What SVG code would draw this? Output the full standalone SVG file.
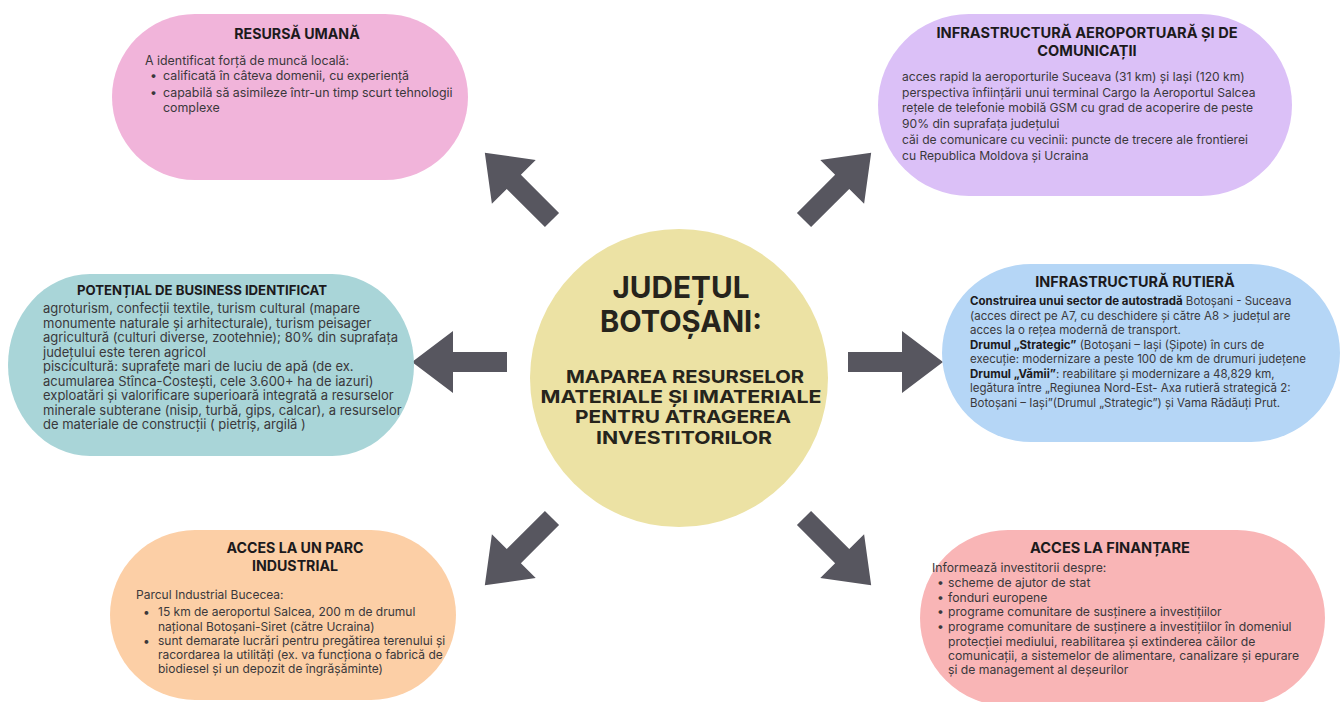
<svg xmlns="http://www.w3.org/2000/svg" width="1341" height="702" viewBox="0 0 1341 702">
  <style>
    .bg { fill: #ffffff; }
    .title { font-family: Inter, "Liberation Sans", sans-serif; font-weight: 700; font-size: 14.4px; fill: #1c1a1c; text-anchor: middle; }
    .body { font-family: Inter, "Liberation Sans", sans-serif; font-size: 12.2px; fill: #3a383b; }
    .b { font-weight: 700; fill: #1c1a1c; }
    .hub1 { font-family: Inter, "Liberation Sans", sans-serif; font-weight: 700; font-size: 30px; fill: #26241c; text-anchor: middle; }
    .hub2 { font-family: Inter, "Liberation Sans", sans-serif; font-weight: 700; font-size: 18px; fill: #26241c; text-anchor: middle; }
    .arrow { fill: #57565f; }
  </style>
  <defs>
    <!-- block arrow pointing along +x, tail at origin -->
    <path id="blockArrow" d="M0,-10 L54,-10 L54,-31 L95,0 L54,31 L54,10 L0,10 Z"/>
  </defs>

  <rect class="bg" x="0" y="0" width="1341" height="702"/>

  <!-- connectors -->
  <g id="connectors" class="arrow">
    <use href="#blockArrow" transform="translate(552,220) rotate(-135)"/>
    <use href="#blockArrow" transform="translate(804,220) rotate(-45)"/>
    <use href="#blockArrow" transform="translate(507,362) rotate(180)"/>
    <use href="#blockArrow" transform="translate(848,362)"/>
    <use href="#blockArrow" transform="translate(552,518) rotate(135)"/>
    <use href="#blockArrow" transform="translate(804,518) rotate(45)"/>
  </g>

  <!-- central hub -->
  <g id="hub">
    <circle cx="679" cy="378" r="149" fill="#ece2a4"/>
    <text class="hub1" x="681" y="298" textLength="137" lengthAdjust="spacingAndGlyphs">JUDEȚUL</text>
    <text class="hub1" x="681" y="332" textLength="162" lengthAdjust="spacingAndGlyphs">BOTOȘANI:</text>
    <text class="hub2" x="685" y="383" textLength="238" lengthAdjust="spacingAndGlyphs">MAPAREA RESURSELOR</text>
    <text class="hub2" x="681" y="403" textLength="281" lengthAdjust="spacingAndGlyphs">MATERIALE ȘI IMATERIALE</text>
    <text class="hub2" x="683" y="423" textLength="216" lengthAdjust="spacingAndGlyphs">PENTRU ATRAGEREA</text>
    <text class="hub2" x="684" y="444" textLength="176" lengthAdjust="spacingAndGlyphs">INVESTITORILOR</text>
  </g>

  <!-- human resources -->
  <g id="resursa-umana">
    <rect x="112" y="14" width="356" height="166" rx="83" fill="#f1b4da"/>
    <text class="title" x="297" y="39" style="font-size:14.2px">RESURSĂ UMANĂ</text>
    <text class="body" style="font-size:12.4px">
      <tspan x="145" y="65">A identificat forță de muncă locală:</tspan>
      <tspan x="150" y="80">•</tspan><tspan x="163" y="80">calificată în câteva domenii, cu experiență</tspan>
      <tspan x="150" y="97">•</tspan><tspan x="163" y="97">capabilă să asimileze într-un timp scurt tehnologii</tspan>
      <tspan x="163" y="112">complexe</tspan>
    </text>
  </g>

  <!-- airport and communications -->
  <g id="infrastructura-aeroportuara">
    <rect x="878" y="14" width="414" height="182" rx="91" fill="#dbc0f7"/>
    <text class="title" x="1087" y="38" style="font-size:14.6px">INFRASTRUCTURĂ AEROPORTUARĂ ȘI DE</text>
    <text class="title" x="1087" y="56" style="font-size:14.6px">COMUNICAȚII</text>
    <text class="body" style="font-size:12.1px">
      <tspan x="902" y="81">acces rapid la aeroporturile Suceava (31 km) și Iași (120 km)</tspan>
      <tspan x="902" y="97">perspectiva înființării unui terminal Cargo la Aeroportul Salcea</tspan>
      <tspan x="902" y="112">rețele de telefonie mobilă GSM cu grad de acoperire de peste</tspan>
      <tspan x="902" y="128">90% din suprafața județului</tspan>
      <tspan x="902" y="144">căi de comunicare cu vecinii: puncte de trecere ale frontierei</tspan>
      <tspan x="902" y="160">cu Republica Moldova și Ucraina</tspan>
    </text>
  </g>

  <!-- business potential -->
  <g id="potential-business">
    <rect x="8" y="274" width="406" height="182" rx="82" ry="91" fill="#a9d5d8"/>
    <text class="title" x="202" y="295" style="font-size:13.2px">POTENȚIAL DE BUSINESS IDENTIFICAT</text>
    <text class="body" style="font-size:13px">
      <tspan x="43" y="313">agroturism, confecții textile, turism cultural (mapare</tspan>
      <tspan x="43" y="327.5">monumente naturale și arhitecturale), turism peisager</tspan>
      <tspan x="43" y="342">agricultură (culturi diverse, zootehnie); 80% din suprafața</tspan>
      <tspan x="43" y="356.5">județului este teren agricol</tspan>
      <tspan x="43" y="371">piscicultură: suprafețe mari de luciu de apă (de ex.</tspan>
      <tspan x="43" y="385.5">acumularea Stînca-Costești, cele 3.600+ ha de iazuri)</tspan>
      <tspan x="43" y="400">exploatări și valorificare superioară integrată a resurselor</tspan>
      <tspan x="43" y="414.5">minerale subterane (nisip, turbă, gips, calcar), a resurselor</tspan>
      <tspan x="43" y="429">de materiale de construcții ( pietriș, argilă )</tspan>
    </text>
  </g>

  <!-- road infrastructure -->
  <g id="infrastructura-rutiera">
    <rect x="942" y="264" width="398" height="178" rx="89" fill="#b5d6f6"/>
    <text class="title" x="1135" y="287">INFRASTRUCTURĂ RUTIERĂ</text>
    <text class="body" style="font-size:11.5px">
      <tspan x="970" y="305"><tspan class="b">Construirea unui sector de autostradă</tspan> Botoșani - Suceava</tspan>
      <tspan x="970" y="319.5">(acces direct pe A7, cu deschidere și către A8 &gt; județul are</tspan>
      <tspan x="970" y="334">acces la o rețea modernă de transport.</tspan>
      <tspan x="970" y="348.5"><tspan class="b">Drumul „Strategic”</tspan> (Botoșani – Iași (Șipote) în curs de</tspan>
      <tspan x="970" y="363">execuție: modernizare a peste 100 de km de drumuri județene</tspan>
      <tspan x="970" y="377.5"><tspan class="b">Drumul „Vămii”</tspan>: reabilitare și modernizare a 48,829 km,</tspan>
      <tspan x="970" y="392">legătura între „Regiunea Nord-Est- Axa rutieră strategică 2:</tspan>
      <tspan x="970" y="406.5">Botoșani – Iași”(Drumul „Strategic”) și Vama Rădăuți Prut.</tspan>
    </text>
  </g>

  <!-- industrial park -->
  <g id="parc-industrial">
    <rect x="110" y="530" width="346" height="170" rx="85" fill="#fccfa6"/>
    <text class="title" x="295" y="553" style="font-size:14.2px">ACCES LA UN PARC</text>
    <text class="title" x="295" y="571" style="font-size:14.2px">INDUSTRIAL</text>
    <text class="body" style="font-size:12px">
      <tspan x="136" y="599">Parcul Industrial Bucecea:</tspan>
      <tspan x="143" y="616">•</tspan><tspan x="158" y="616">15 km de aeroportul Salcea, 200 m de drumul</tspan>
      <tspan x="158" y="631">național Botoșani-Siret (către Ucraina)</tspan>
      <tspan x="143" y="645">•</tspan><tspan x="158" y="645">sunt demarate lucrări pentru pregătirea terenului și</tspan>
      <tspan x="158" y="659">racordarea la utilități (ex. va funcționa o fabrică de</tspan>
      <tspan x="158" y="673">biodiesel și un depozit de îngrășăminte)</tspan>
    </text>
  </g>

  <!-- financing -->
  <g id="acces-finantare">
    <rect x="920" y="530" width="405" height="176" rx="88" fill="#f9b5b6"/>
    <text class="title" x="1110" y="553" style="font-size:14.6px">ACCES LA FINANȚARE</text>
    <text class="body" style="font-size:12.2px">
      <tspan x="932" y="572">Informează investitorii despre:</tspan>
      <tspan x="937" y="587">•</tspan><tspan x="948" y="587">scheme de ajutor de stat</tspan>
      <tspan x="937" y="602">•</tspan><tspan x="948" y="602">fonduri europene</tspan>
      <tspan x="937" y="616">•</tspan><tspan x="948" y="616">programe comunitare de susținere a investițiilor</tspan>
      <tspan x="937" y="631">•</tspan><tspan x="948" y="631">programe comunitare de susținere a investițiilor în domeniul</tspan>
      <tspan x="948" y="646">protecției mediului, reabilitarea și extinderea căilor de</tspan>
      <tspan x="948" y="660">comunicații, a sistemelor de alimentare, canalizare și epurare</tspan>
      <tspan x="948" y="674">și de management al deșeurilor</tspan>
    </text>
  </g>
</svg>
